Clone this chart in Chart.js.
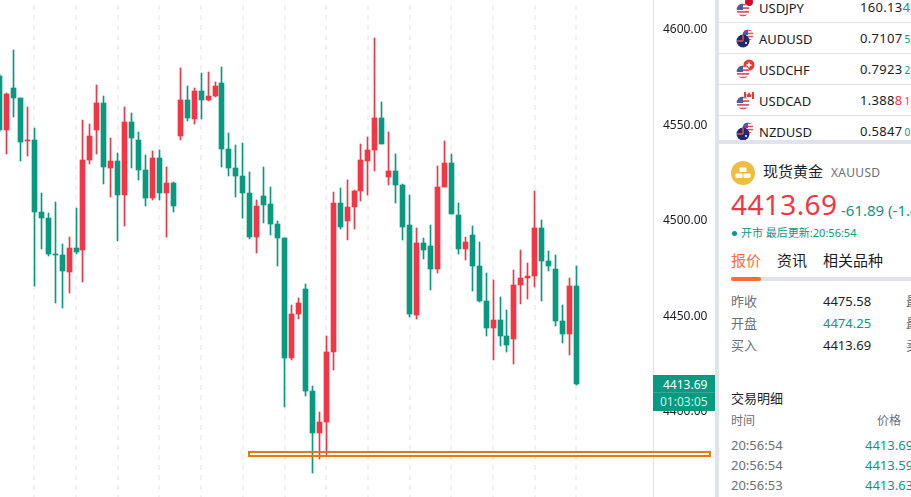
<!DOCTYPE html>
<html>
<head>
<meta charset="utf-8">
<title>XAUUSD</title>
<script src="https://cdn.jsdelivr.net/npm/chart.js@4"></script>
<style>
html, body { margin: 0; padding: 0; background: #fff; }
body { position: relative; width: 911px; height: 497px; overflow: hidden; font-family: "Noto Sans", "Noto Sans CJK SC", sans-serif; color: #1c1c24; }
#chart { position: absolute; left: 0; top: 0; }
.t { position: absolute; white-space: nowrap; line-height: 1; }
.box { position: absolute; }
.gray { color: #6b6f78; }
.green { color: #089981; }
.red { color: #f23645; }
.line { position: absolute; left: 719px; width: 192px; height: 2px; background: #e0e3eb; }
.flag { position: absolute; left: 734px; width: 22px; height: 22px; }
</style>
</head>
<body>
<canvas id="chart" width="715" height="497"></canvas>

<!-- Drawn zone on the price chart -->
<div class="box" style="left:248px;top:451px;width:463px;height:6px;box-sizing:border-box;border:2px solid #e8770c;z-index:3"></div>

<!-- Last price tag -->
<div class="box" style="left:653px;top:375px;width:62px;height:36px;background:#089981"></div>
<div class="box" style="left:653px;top:392px;width:62px;height:1px;background:#2fab95"></div>
<div class="t" style="left:663px;top:379px;font-size:12px;color:#fff">4413.69</div>
<div class="t" style="left:660px;top:396px;font-size:12px;color:#cdeee6">01:03:05</div>

<!-- Panel divider -->
<div class="box" style="left:715px;top:0;width:4px;height:497px;background:#e0e3eb"></div>

<div id="watchlist"></div>
<div class="box" style="left:719px;top:140px;width:192px;height:4px;background:#e0e3eb"></div>

<!-- Quote header -->
<svg class="box" style="left:731px;top:161px" width="24" height="24" viewBox="0 0 24 24">
  <circle cx="12" cy="12" r="12" fill="#f0bc42"/>
  <rect x="8.5" y="6.5" width="7" height="4.5" rx="1" fill="#fff"/>
  <rect x="4.5" y="12.5" width="7" height="4.5" rx="1" fill="#fff"/>
  <rect x="12.5" y="12.5" width="7" height="4.5" rx="1" fill="#fff"/>
</svg>
<div class="t" style="left:763px;top:164px;font-size:15px">现货黄金</div>
<div class="t gray" style="left:831px;top:167px;font-size:12px;letter-spacing:.3px">XAUUSD</div>
<div class="t red" style="left:731px;top:190px;font-size:28px;letter-spacing:.4px">4413.69</div>
<div class="t green" style="left:841px;top:203px;font-size:15px">-61.89 (-1.40%)</div>
<div class="box" style="left:732px;top:231px;width:5px;height:5px;border-radius:50%;background:#089981"></div>
<div class="t green" style="left:741px;top:227px;font-size:11px">开市 最后更新:20:56:54</div>

<!-- Tabs -->
<div class="t" style="left:731px;top:253px;font-size:15px;color:#ff6b35">报价</div>
<div class="t" style="left:777px;top:253px;font-size:15px">资讯</div>
<div class="t" style="left:823px;top:253px;font-size:15px">相关品种</div>
<div class="box" style="left:731px;top:277px;width:180px;height:4px;background:#e0e3eb"></div>
<div class="box" style="left:731px;top:277px;width:30px;height:4px;border-radius:2px;background:#ff6b35"></div>

<!-- Quote table -->
<div class="t gray" style="left:731px;top:295px;font-size:13px">昨收</div>
<div class="t" style="left:823px;top:295px;font-size:13px">4475.58</div>
<div class="t gray" style="left:906px;top:295px;font-size:13px">最</div>
<div class="t gray" style="left:731px;top:317px;font-size:13px">开盘</div>
<div class="t green" style="left:823px;top:317px;font-size:13px">4474.25</div>
<div class="t gray" style="left:906px;top:317px;font-size:13px">最</div>
<div class="t gray" style="left:731px;top:339px;font-size:13px">买入</div>
<div class="t" style="left:823px;top:339px;font-size:13px">4413.69</div>
<div class="t gray" style="left:906px;top:339px;font-size:13px">卖</div>

<!-- Trade list -->
<div class="t" style="left:731px;top:392px;font-size:13px">交易明细</div>
<div class="t gray" style="left:731px;top:415px;font-size:12px">时间</div>
<div class="t gray" style="left:877px;top:415px;font-size:12px">价格</div>
<div id="trades"></div>

<script>
// Candles, oldest first
const opens = [4575.1,4546.8,4568.8,4563.6,4541.1,4541.6,4503.9,4500.8,4481.9,4481.4,4472.5,4485.1,4484.0,4531.1,4546.8,4561.0,4527.0,4530.6,4512.8,4551.0,4541.6,4525.9,4511.2,4532.2,4513.9,4519.1,4543.7,4562.6,4552.6,4567.3,4562.6,4564.6,4571.5,4536.9,4527.0,4522.8,4513.9,4490.8,4512.3,4508.1,4497.6,4490.3,4427.5,4450.5,4463.6,4410.2,4388.2,4394.0,4430.6,4508.6,4499.2,4506.5,4514.9,4530.6,4536.4,4553.1,4522.3,4525.4,4518.1,4497.1,4450.0,4487.7,4486.1,4474.1,4517.0,4529.6,4502.4,4484.5,4491.9,4475.7,4457.3,4443.2,4447.4,4439.0,4437.4,4465.7,4469.4,4470.4,4495.5,4478.3,4474.1,4446.9,4440.0,4465.2];
const highs = [4576.0,4566.2,4588.7,4563.6,4558.9,4547.9,4513.9,4503.4,4509.2,4487.2,4490.8,4506.0,4552.1,4550.0,4570.4,4564.6,4542.7,4534.8,4558.9,4555.7,4545.8,4533.8,4535.9,4536.4,4527.5,4519.6,4579.3,4569.9,4568.8,4576.7,4577.2,4572.0,4579.8,4545.3,4539.0,4540.0,4524.9,4510.2,4527.5,4517.0,4499.2,4490.3,4455.2,4458.9,4466.2,4412.8,4399.2,4439.0,4514.4,4516.5,4520.7,4515.4,4539.5,4543.2,4595.0,4561.5,4545.8,4534.3,4518.6,4512.8,4495.5,4490.3,4497.1,4528.0,4541.1,4534.3,4508.6,4490.8,4496.6,4488.2,4472.0,4468.3,4459.4,4452.6,4473.6,4484.0,4477.2,4514.9,4499.7,4483.5,4481.4,4455.2,4469.4,4475.7];
const lows = [4546.0,4534.3,4553.7,4530.6,4533.2,4465.2,4484.6,4480.9,4456.3,4453.7,4461.5,4481.9,4467.3,4529.0,4534.3,4518.6,4511.8,4488.7,4496.6,4527.0,4520.7,4507.1,4510.2,4510.2,4490.8,4503.9,4541.6,4551.6,4550.0,4552.6,4562.0,4564.1,4527.5,4522.8,4511.8,4500.8,4489.8,4482.5,4498.2,4491.9,4475.7,4401.8,4426.4,4447.9,4407.6,4367.3,4374.6,4376.7,4421.2,4495.0,4489.3,4495.0,4509.7,4512.8,4525.4,4539.5,4518.1,4508.6,4489.3,4448.9,4447.9,4479.3,4463.1,4472.0,4517.0,4502.9,4481.9,4478.8,4462.6,4456.8,4439.0,4426.4,4433.8,4430.6,4424.3,4455.8,4458.4,4464.7,4457.3,4473.0,4444.2,4435.3,4429.0,4413.3];
const closes = [4546.9,4565.7,4563.6,4540.6,4541.6,4503.9,4500.8,4481.9,4481.4,4473.0,4485.1,4483.0,4531.1,4543.7,4561.0,4527.5,4530.6,4512.8,4551.0,4542.7,4525.9,4511.2,4532.2,4513.9,4519.1,4507.1,4562.6,4553.1,4567.3,4562.6,4564.6,4569.9,4536.9,4527.0,4522.8,4513.9,4490.8,4507.1,4507.6,4497.6,4490.3,4427.6,4450.5,4456.3,4410.2,4388.2,4394.0,4430.6,4508.6,4496.1,4506.5,4514.9,4531.2,4536.4,4553.1,4539.5,4525.4,4518.1,4496.1,4450.5,4487.7,4484.0,4474.1,4517.0,4529.6,4502.9,4484.5,4488.2,4475.7,4457.3,4443.2,4447.4,4439.0,4434.3,4465.7,4469.4,4470.4,4495.5,4478.3,4475.7,4446.9,4440.0,4465.2,4413.69];

const priceTicks = [4400, 4450, 4500, 4550, 4600];
const gridIndexes = [2, 8, 14, 20, 26, 32, 38, 44, 50, 56, 62, 68, 74, 80];

const UP = '#f23645';
const DOWN = '#089981';

// Watchlist rows
const watchSymbols = ['USDJPY', 'AUDUSD', 'USDCHF', 'USDCAD', 'NZDUSD'];
const watchMain = ['160.13', '0.7107', '0.7923', '1.388', '0.5847'];
const watchHot = ['4', '', '', '8', ''];
const watchTail = ['', '5', '2', '1', '0'];
const watchHotColor = ['green', '', '', 'red', ''];
const watchTailColor = ['', 'green', 'green', 'red', 'green'];
const watchFlags = ['jp', 'au', 'ch', 'ca', 'nz'];

// Trade list rows
const tradeTimes = ['20:56:54', '20:56:54', '20:56:53'];
const tradePrices = ['4413.69', '4413.59', '4413.63'];

function usFlag(cx, cy, r, id) {
    return `<clipPath id="${id}"><circle cx="${cx}" cy="${cy}" r="${r}"/></clipPath>` +
        `<g clip-path="url(#${id})"><rect x="${cx - r}" y="${cy - r}" width="${2 * r}" height="${2 * r}" fill="#fff"/>` +
        [0, 2, 4, 6].map(i => `<rect x="${cx - r}" y="${cy - r + i * r / 3.5}" width="${2 * r}" height="${r / 3.5}" fill="#e05566"/>`).join('') +
        `<rect x="${cx - r}" y="${cy - r}" width="${r}" height="${r}" fill="#4a5f9c"/></g>`;
}

function flagIcon(kind, i) {
    let s = '<svg class="flag" viewBox="0 0 22 22" width="22" height="22" style="top:' + (rowY(i) - 11) + 'px">';
    if (kind === 'au' || kind === 'nz') {
        s += usFlag(14, 7, 5.5, 'u' + i);
        s += '<circle cx="9" cy="13" r="6.5" fill="#1c2a6e"/><path d="M9 13H3M9 13V7" stroke="#e8505f" stroke-width="1.4"/><circle cx="12" cy="15" r="1" fill="#fff"/>';
    } else {
        if (kind === 'jp') s += '<circle cx="15" cy="5" r="4" fill="#c8102e"/>';
        if (kind === 'ch') s += '<circle cx="15" cy="6" r="5.5" fill="#e53935"/><path d="M15 3.5v5M12.5 6h5" stroke="#fff" stroke-width="1.6"/>';
        if (kind === 'ca') s += '<rect x="10" y="2" width="10" height="7" fill="#fff"/><path d="M10 2h2v7h-2zM18 2h2v7h-2zM15 2l1.4 2.4 1.2-.4-.6 3h-4l-.6-3 1.2.4z" fill="#e53935"/>';
        s += usFlag(9, 13, 6.5, 'u' + i);
    }
    return s + '</svg>';
}

function rowY(i) {
    return 8 + i * 31;
}

// Fill the side panel lists
let watchHtml = '';
watchSymbols.forEach((sym, i) => {
    const y = rowY(i);
    watchHtml += flagIcon(watchFlags[i], i);
    watchHtml += `<div class="t" style="left:759px;top:${y - 6}px;font-size:13px">${sym}</div>`;
    let price = `<span>${watchMain[i]}</span>`;
    if (watchHot[i]) price += `<span class="${watchHotColor[i]}">${watchHot[i]}</span>`;
    if (watchTail[i]) price += `<span class="${watchTailColor[i]}" style="font-size:10px;margin-left:2px">${watchTail[i]}</span>`;
    watchHtml += `<div class="t" style="left:860px;top:${y - 7}px;font-size:13px;letter-spacing:.3px">${price}</div>`;
    if (i < watchSymbols.length - 1) watchHtml += `<div class="line" style="top:${y + 14}px;height:1px"></div>`;
});
document.getElementById('watchlist').innerHTML = watchHtml;

let tradesHtml = '';
tradeTimes.forEach((time, i) => {
    const y = 439 + i * 20;
    tradesHtml += `<div class="t gray" style="left:731px;top:${y}px;font-size:13px">${time}</div>`;
    tradesHtml += `<div class="t green" style="left:865px;top:${y}px;font-size:13px">${tradePrices[i]}</div>`;
});
document.getElementById('trades').innerHTML = tradesHtml;

const candleColors = closes.map((c, i) => (c >= opens[i] ? UP : DOWN));

// Keep wicks and bodies on whole pixels so they stay sharp
const snapBars = {
    id: 'snapBars',
    afterDatasetsUpdate(chart) {
        chart.getSortedVisibleDatasetMetas().forEach(meta => {
            meta.data.forEach(bar => {
                bar.x = Math.round(bar.x - 0.5) + 0.5;
                bar.y = Math.round(bar.y);
                bar.base = Math.round(bar.base);
                if (Math.abs(bar.base - bar.y) < 1) bar.base = bar.y + 1;
                bar.height = bar.base - bar.y;
            });
        });
    }
};

new Chart(document.getElementById('chart').getContext('2d'), {
    type: 'bar',
    plugins: [snapBars],
    data: {
        datasets: [{
            label: 'Wick',
            data: opens.map((o, i) => ({ x: i, y: [lows[i], highs[i]] })),
            backgroundColor: candleColors,
            barThickness: 1,
            grouped: false,
            order: 2
        }, {
            label: 'Body',
            data: opens.map((o, i) => ({ x: i, y: [o, closes[i]] })),
            backgroundColor: candleColors,
            barThickness: 5,
            grouped: false,
            order: 1
        }]
    },
    options: {
        responsive: false,
        animation: false,
        layout: { padding: 0 },
        plugins: {
            legend: { display: false },
            tooltip: { enabled: false }
        },
        scales: {
            x: {
                type: 'linear',
                offset: false,
                min: 0.065,
                max: 94.01,
                afterBuildTicks: scale => {
                    scale.ticks = gridIndexes.map(value => ({ value }));
                },
                afterFit: scale => {
                    scale.height = 0;
                    scale.paddingLeft = 0;
                    scale.paddingRight = 0;
                },
                ticks: { display: false, autoSkip: false },
                grid: { color: '#f0f0f5', lineWidth: 2, drawTicks: false },
                border: { display: false, dash: [5, 5], dashOffset: 5 }
            },
            y: {
                type: 'linear',
                position: 'right',
                min: 4354.7,
                max: 4614.9,
                afterBuildTicks: scale => {
                    scale.ticks = priceTicks.map(value => ({ value }));
                },
                afterFit: scale => {
                    scale.width = 62;
                    scale.paddingTop = 0;
                    scale.paddingBottom = 0;
                },
                ticks: {
                    autoSkip: false,
                    padding: 10,
                    labelOffset: 1.5,
                    color: '#1c1c24',
                    font: { family: '"Noto Sans"', size: 12 },
                    callback: v => v.toFixed(2)
                },
                grid: { display: false, drawTicks: false },
                border: { display: true, color: '#e0e3eb', width: 1 }
            }
        }
    }
});
</script>
</body>
</html>
